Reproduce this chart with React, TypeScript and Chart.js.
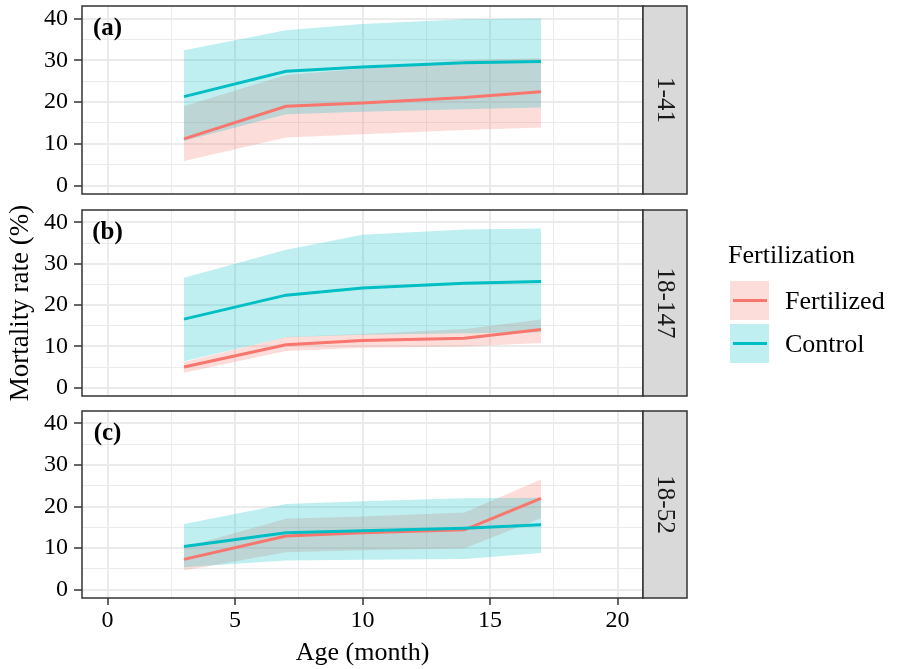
import React, { useEffect, useRef } from "react";
import { Chart, registerables } from "chart.js";

Chart.register(...registerables);

// ---------- data ----------
const ages = [3, 7, 10, 14, 17];

const aFert = [11.2, 19.0, 19.8, 21.1, 22.5];
const aFertLo = [5.9, 11.5, 12.3, 13.3, 13.9];
const aFertHi = [19.0, 26.5, 28.0, 30.0, 30.5];
const aCtrl = [21.3, 27.4, 28.4, 29.4, 29.7];
const aCtrlLo = [10.7, 17.1, 17.7, 18.3, 18.7];
const aCtrlHi = [32.4, 37.2, 38.7, 39.8, 40.0];

const bFert = [5.0, 10.4, 11.4, 12.0, 14.1];
const bFertLo = [3.6, 8.9, 9.7, 10.0, 10.8];
const bFertHi = [6.2, 12.3, 13.0, 14.2, 16.5];
const bCtrl = [16.6, 22.4, 24.1, 25.3, 25.7];
const bCtrlLo = [6.4, 12.2, 12.8, 13.2, 13.4];
const bCtrlHi = [26.6, 33.4, 37.0, 38.3, 38.5];

const cFert = [7.3, 12.9, 13.7, 14.4, 22.0];
const cFertLo = [4.6, 9.0, 9.5, 10.0, 17.2];
const cFertHi = [10.2, 17.1, 17.6, 18.6, 26.5];
const cCtrl = [10.4, 13.7, 14.2, 14.8, 15.6];
const cCtrlLo = [5.4, 7.0, 7.2, 7.4, 8.8];
const cCtrlHi = [15.8, 20.6, 21.3, 22.0, 22.1];

const panelTags = ["(a)", "(b)", "(c)"];
const stripLabels = ["1-41", "18-147", "18-52"];
const seriesNames = ["Fertilized", "Control"];
const legendTitle = "Fertilization";
const xTitle = "Age (month)";
const yTitle = "Mortality rate (%)";
const xTickValues = [0, 2.5, 5, 7.5, 10, 12.5, 15, 17.5, 20];
const yTickValues = [0, 5, 10, 15, 20, 25, 30, 35, 40];

// ---------- styles ----------
const FONT = "'Liberation Serif', 'Times New Roman', serif";
const RED = "#F8766D";
const CYAN = "#00BFC4";
const RED_FILL = "rgba(248,118,109,0.25)";
const CYAN_FILL = "rgba(0,191,196,0.25)";
const BORDER = "#333333";
const GRID = "#EBEBEB";
const CW = 901;
const PLOT_RIGHT = 643;
const STRIP_W = 44;

type PanelSpec = {
  idx: number;
  top: number;
  height: number;
  padTop: number;
  padBottom: number;
  xAxisH: number;
  bottom: boolean;
  yTitle: boolean;
  legend: boolean;
  fert: number[];
  fertLo: number[];
  fertHi: number[];
  ctrl: number[];
  ctrlLo: number[];
  ctrlHi: number[];
};

const panels: PanelSpec[] = [
  { idx: 0, top: 0, height: 200, padTop: 6, padBottom: 6, xAxisH: 0, bottom: false, yTitle: false, legend: false,
    fert: aFert, fertLo: aFertLo, fertHi: aFertHi, ctrl: aCtrl, ctrlLo: aCtrlLo, ctrlHi: aCtrlHi },
  { idx: 1, top: 200, height: 206, padTop: 10, padBottom: 10, xAxisH: 0, bottom: false, yTitle: true, legend: true,
    fert: bFert, fertLo: bFertLo, fertHi: bFertHi, ctrl: bCtrl, ctrlLo: bCtrlLo, ctrlHi: bCtrlHi },
  { idx: 2, top: 406, height: 263, padTop: 5, padBottom: 0, xAxisH: 71, bottom: true, yTitle: false, legend: false,
    fert: cFert, fertLo: cFertLo, fertHi: cFertHi, ctrl: cCtrl, ctrlLo: cCtrlLo, ctrlHi: cCtrlHi },
];

function pts(ys: number[]) {
  return ages.map((x, i) => ({ x, y: ys[i] }));
}

function makePlugin(p: PanelSpec) {
  return {
    id: "facetDecor" + p.idx,
    afterDraw(chart: any) {
      const ctx = chart.ctx;
      const a = chart.chartArea;
      ctx.save();
      // panel border
      ctx.strokeStyle = BORDER;
      ctx.lineWidth = 1.5;
      ctx.strokeRect(a.left, a.top, a.right - a.left, a.bottom - a.top);
      // strip
      ctx.fillStyle = "#D9D9D9";
      ctx.fillRect(a.right, a.top, STRIP_W, a.bottom - a.top);
      ctx.strokeRect(a.right, a.top, STRIP_W, a.bottom - a.top);
      ctx.translate(a.right + STRIP_W / 2, (a.top + a.bottom) / 2);
      ctx.rotate(Math.PI / 2);
      ctx.fillStyle = "#1A1A1A";
      ctx.font = `25px ${FONT}`;
      ctx.textAlign = "center";
      ctx.textBaseline = "middle";
      ctx.fillText(stripLabels[p.idx], 0, 0);
      ctx.restore();

      // panel tag
      ctx.save();
      const xs = chart.scales.x;
      const ys = chart.scales.y;
      ctx.fillStyle = "#000";
      ctx.font = `bold 25px ${FONT}`;
      ctx.textAlign = "center";
      ctx.textBaseline = "middle";
      ctx.fillText(panelTags[p.idx], xs.getPixelForValue(0), ys.getPixelForValue(37.6));
      ctx.restore();

      if (p.legend) {
        const off = p.top;
        ctx.save();
        ctx.fillStyle = "#000";
        ctx.font = `26px ${FONT}`;
        ctx.textAlign = "left";
        ctx.textBaseline = "alphabetic";
        ctx.fillText(legendTitle, 728, 263 - off);
        const keys = [
          { fill: RED_FILL, line: RED, y: 281 },
          { fill: CYAN_FILL, line: CYAN, y: 324 },
        ];
        keys.forEach((k, i) => {
          ctx.fillStyle = "#fff";
          ctx.fillRect(730, k.y - off, 39, 39);
          ctx.fillStyle = k.fill;
          ctx.fillRect(730, k.y - off, 39, 39);
          ctx.strokeStyle = k.line;
          ctx.lineWidth = 3;
          ctx.beginPath();
          ctx.moveTo(733, k.y - off + 19.5);
          ctx.lineTo(767, k.y - off + 19.5);
          ctx.stroke();
          ctx.fillStyle = "#000";
          ctx.font = `26px ${FONT}`;
          ctx.textBaseline = "middle";
          ctx.fillText(seriesNames[i], 785, k.y - off + 21);
        });
        ctx.restore();
      }
    },
  };
}

function Panel({ p }: { p: PanelSpec }) {
  const ref = useRef<HTMLCanvasElement | null>(null);
  useEffect(() => {
    if (!ref.current) return;
    const isMajorX = (v: number) => v % 5 === 0;
    const isMajorY = (v: number) => v % 10 === 0;
    const chart = new Chart(ref.current, {
      type: "line",
      data: {
        datasets: [
          { label: seriesNames[1], data: pts(p.ctrl), borderColor: CYAN, borderWidth: 3, pointRadius: 0, fill: false, tension: 0 },
          { label: seriesNames[0], data: pts(p.fert), borderColor: RED, borderWidth: 3, pointRadius: 0, fill: false, tension: 0 },
          { label: "ctrlLo", data: pts(p.ctrlLo), borderWidth: 0, borderColor: "rgba(0,0,0,0)", pointRadius: 0, fill: false, tension: 0 },
          { label: "ctrlHi", data: pts(p.ctrlHi), borderWidth: 0, borderColor: "rgba(0,0,0,0)", backgroundColor: CYAN_FILL, pointRadius: 0, fill: "-1", tension: 0 },
          { label: "fertLo", data: pts(p.fertLo), borderWidth: 0, borderColor: "rgba(0,0,0,0)", pointRadius: 0, fill: false, tension: 0 },
          { label: "fertHi", data: pts(p.fertHi), borderWidth: 0, borderColor: "rgba(0,0,0,0)", backgroundColor: RED_FILL, pointRadius: 0, fill: "-1", tension: 0 },
        ],
      },
      options: {
        responsive: false,
        animation: false,
        events: [],
        layout: { padding: { left: 0, right: CW - PLOT_RIGHT, top: p.padTop, bottom: p.padBottom } },
        plugins: { legend: { display: false }, tooltip: { enabled: false } },
        scales: {
          x: {
            type: "linear",
            min: -1,
            max: 21,
            afterBuildTicks: (s: any) => {
              s.ticks = xTickValues.map((v) => ({ value: v }));
            },
            afterFit: (s: any) => {
              s.height = p.xAxisH;
              s.paddingLeft = 0;
              s.paddingRight = 0;
            },
            border: { display: false },
            grid: {
              color: GRID,
              lineWidth: (c: any) => (c.tick && isMajorX(c.tick.value) ? 2 : 1),
              drawTicks: p.bottom,
              tickLength: 7,
              tickWidth: 1.5,
              tickColor: (c: any) => (c.tick && isMajorX(c.tick.value) ? BORDER : "rgba(0,0,0,0)"),
            },
            ticks: {
              display: p.bottom,
              autoSkip: false,
              maxRotation: 0,
              minRotation: 0,
              padding: 1,
              color: "#000",
              font: { family: FONT, size: 24 },
              callback: (v: any) => (isMajorX(Number(v)) ? String(v) : ""),
            },
            title: {
              display: p.bottom,
              text: xTitle,
              color: "#000",
              font: { family: FONT, size: 26 },
              padding: { top: 0, bottom: 0 },
            },
          },
          y: {
            type: "linear",
            min: -2.0,
            max: 43.0,
            afterBuildTicks: (s: any) => {
              s.ticks = yTickValues.map((v) => ({ value: v }));
            },
            afterFit: (s: any) => {
              s.width = 82;
              s.paddingTop = 0;
              s.paddingBottom = 0;
            },
            border: { display: false },
            grid: {
              color: GRID,
              lineWidth: (c: any) => (c.tick && isMajorY(c.tick.value) ? 2 : 1),
              drawTicks: true,
              tickLength: 8,
              tickWidth: 1.5,
              tickColor: (c: any) => (c.tick && isMajorY(c.tick.value) ? BORDER : "rgba(0,0,0,0)"),
            },
            ticks: {
              autoSkip: false,
              padding: 6,
              color: "#000",
              font: { family: FONT, size: 24 },
              callback: (v: any) => (isMajorY(Number(v)) ? String(v) : ""),
            },
            title: {
              display: p.yTitle,
              text: yTitle,
              color: "#000",
              font: { family: FONT, size: 27 },
              padding: { top: 5, bottom: 0 },
            },
          },
        },
      } as any,
      plugins: [makePlugin(p)],
    });
    return () => chart.destroy();
  }, [p]);
  return (
    <canvas
      ref={ref}
      width={CW}
      height={p.height}
      style={{ position: "absolute", left: 0, top: p.top, width: CW, height: p.height, display: "block" }}
    />
  );
}

export default function App() {
  return (
    <div style={{ position: "absolute", left: 0, top: 0, width: CW, height: 669, background: "#fff", overflow: "hidden" }}>
      {panels.map((p) => (
        <Panel key={p.idx} p={p} />
      ))}
    </div>
  );
}
